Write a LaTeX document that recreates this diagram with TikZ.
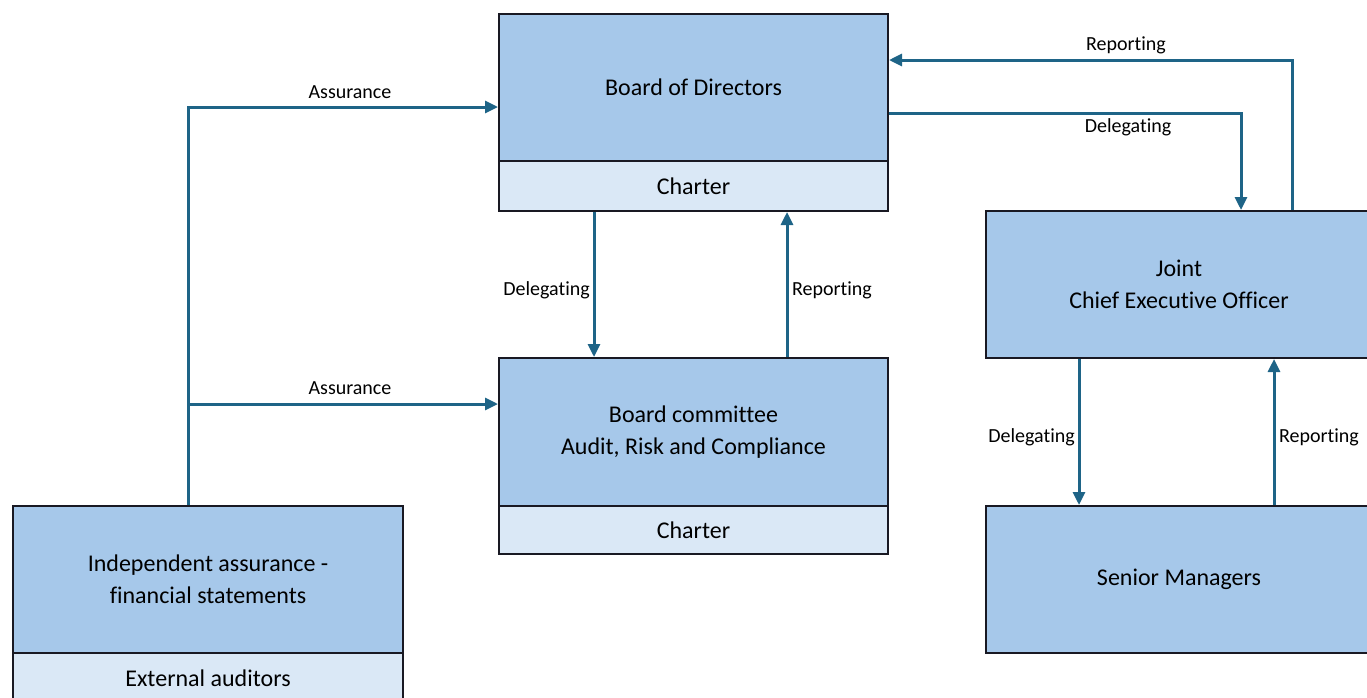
\documentclass[tikz,border=0pt]{standalone}
\usepackage{fontspec}
\setmainfont{Carlito}[Ligatures=NoCommon]
\usetikzlibrary{arrows.meta,calc}
\definecolor{boxdark}{RGB}{166,200,234}
\definecolor{boxlight}{RGB}{218,232,246}
\definecolor{edge}{RGB}{25,25,35}
\definecolor{arrowcol}{RGB}{30,100,135}
\tikzset{
  mainbox/.style={draw=edge, line width=2pt, fill=boxdark, inner sep=0pt, anchor=north west,
    align=center, font=\fontsize{24}{32}\selectfont, minimum width=389pt, minimum height=147pt},
  subbox/.style={draw=edge, line width=2pt, fill=boxlight, inner sep=0pt, anchor=north west,
    align=center, font=\fontsize{24}{32}\selectfont, minimum width=389pt, minimum height=49pt},
  conn/.style={draw=arrowcol, line width=3pt, -{Triangle[length=13pt,width=12pt]}},
  lbl/.style={font=\fontsize{20}{24}\selectfont, text=black, inner sep=2pt},
}
\begin{document}
\begin{tikzpicture}[x=1pt,y=-1pt]
\useasboundingbox (0,0) rectangle (1367,697);
\clip (0,0) rectangle (1367,697);
% boxes
\node[mainbox] (bod) at (498,13) {Board of Directors};
\node[subbox, minimum height=50pt] (bodc) at (498,160) {Charter};
\node[mainbox, minimum height=148pt] (com) at (498,357) {Board committee\\Audit, Risk and Compliance};
\node[subbox, minimum height=48pt] (comc) at (498,505) {Charter};
\node[mainbox, minimum width=386pt] (ceo) at (985,210) {Joint\\Chief Executive Officer};
\node[mainbox, minimum width=386pt] (sen) at (985,505) {Senior Managers};
\node[mainbox, minimum width=390pt] (ind) at (12,505) {Independent assurance -\\financial statements};
\node[subbox, minimum width=390pt, minimum height=50pt] (ext) at (12,652) {External auditors};
% helper coordinates
\coordinate (xA) at (188,0);
\coordinate (yA1) at (0,107);
\coordinate (yA2) at (0,404);
\coordinate (xD1) at (594,0);
\coordinate (xR1) at (787,0);
\coordinate (yD2) at (0,113);
\coordinate (xD2) at (1241,0);
\coordinate (yR2) at (0,60);
\coordinate (xR2) at (1292,0);
\coordinate (xD3) at (1079,0);
\coordinate (xR3) at (1274,0);
% connectors
\draw[conn] (ind.north -| xA) -- (xA |- yA1) -- (bod.west |- yA1);
\draw[conn] (xA |- yA2) -- (com.west |- yA2);
\node[lbl] at (350,92) {Assurance};
\node[lbl] at (350,388) {Assurance};
\draw[conn] (bodc.south -| xD1) -- (com.north -| xD1);
\node[lbl, anchor=east] at (592,290) {Delegating};
\draw[conn] (com.north -| xR1) -- (bodc.south -| xR1);
\node[lbl, anchor=west] at (790,290) {Reporting};
\draw[conn] (bod.east |- yD2) -- (xD2 |- yD2) -- (ceo.north -| xD2);
\node[lbl] at (1128,127) {Delegating};
\draw[conn] (ceo.north -| xR2) -- (xR2 |- yR2) -- (bod.east |- yR2);
\node[lbl] at (1126,45) {Reporting};
\draw[conn] (ceo.south -| xD3) -- (sen.north -| xD3);
\node[lbl, anchor=east] at (1077,437) {Delegating};
\draw[conn] (sen.north -| xR3) -- (ceo.south -| xR3);
\node[lbl, anchor=west] at (1277,437) {Reporting};
\end{tikzpicture}
\end{document}
